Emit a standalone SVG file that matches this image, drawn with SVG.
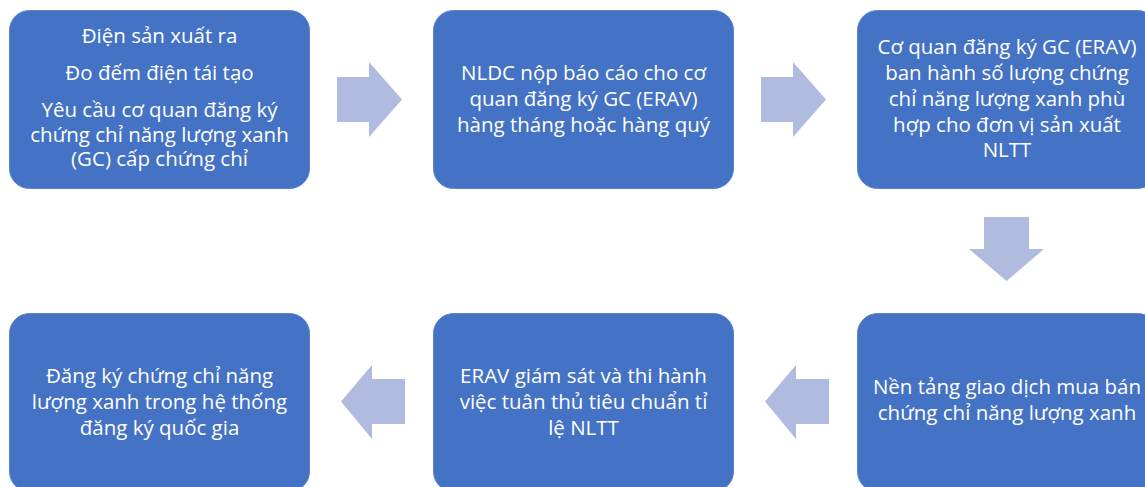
<svg xmlns="http://www.w3.org/2000/svg" width="1145" height="487" viewBox="0 0 1145 487">
<style>
.box{fill:#4472C4;stroke:#5B82CB;stroke-width:1}
.arr{fill:#AFBCDF}
text{font-family:"Open Sans","Noto Sans",sans-serif;font-size:20.5px;fill:#FFFFFF;text-anchor:middle}
</style>
<rect width="1145" height="487" fill="#FFFFFF"/>
<g id="connectors">
<polygon class="arr" points="337,77 369,77 369,62 402,99.5 369,137 369,122 337,122"/>
<polygon class="arr" points="761,77 793,77 793,62 826,99.5 793,137 793,122 761,122"/>
<polygon class="arr" points="984,217 1029,217 1029,249 1044,249 1006.5,281 969,249 984,249"/>
<polygon class="arr" points="829,379 796,379 796,365 765,401.5 796,439 796,424 829,424"/>
<polygon class="arr" points="405,379 372,379 372,365 341,401.5 372,439 372,424 405,424"/>
</g>
<g id="node1">
<rect class="box" x="9.5" y="10.5" width="300" height="178" rx="20"/>
<text x="159.5" y="43">Điện sản xuất ra</text>
<text x="159.5" y="80">Đo đếm điện tái tạo</text>
<text x="159.5" y="116.5">Yêu cầu cơ quan đăng ký</text>
<text x="159.5" y="141.5">chứng chỉ năng lượng xanh</text>
<text x="159.5" y="166">(GC) cấp chứng chỉ</text>
</g>
<g id="node2">
<rect class="box" x="433.5" y="10.5" width="300" height="178" rx="20"/>
<text x="583.5" y="80">NLDC nộp báo cáo cho cơ</text>
<text x="583.5" y="106">quan đăng ký GC (ERAV)</text>
<text x="583.5" y="132">hàng tháng hoặc hàng quý</text>
</g>
<g id="node3">
<rect class="box" x="857.5" y="10.5" width="300" height="178" rx="20"/>
<text x="1007" y="54">Cơ quan đăng ký GC (ERAV)</text>
<text x="1007" y="80">ban hành số lượng chứng</text>
<text x="1007" y="106">chỉ năng lượng xanh phù</text>
<text x="1007" y="132">hợp cho đơn vị sản xuất</text>
<text x="1007" y="157">NLTT</text>
</g>
<g id="node4">
<rect class="box" x="857.5" y="313.5" width="300" height="178" rx="20"/>
<text x="1007" y="394">Nền tảng giao dịch mua bán</text>
<text x="1007" y="420">chứng chỉ năng lượng xanh</text>
</g>
<g id="node5">
<rect class="box" x="433.5" y="313.5" width="300" height="178" rx="20"/>
<text x="583.5" y="383">ERAV giám sát và thi hành</text>
<text x="583.5" y="409">việc tuân thủ tiêu chuẩn tỉ</text>
<text x="583.5" y="435">lệ NLTT</text>
</g>
<g id="node6">
<rect class="box" x="9.5" y="313.5" width="300" height="178" rx="20"/>
<text x="159.5" y="383">Đăng ký chứng chỉ năng</text>
<text x="159.5" y="409">lượng xanh trong hệ thống</text>
<text x="159.5" y="435">đăng ký quốc gia</text>
</g>
</svg>
